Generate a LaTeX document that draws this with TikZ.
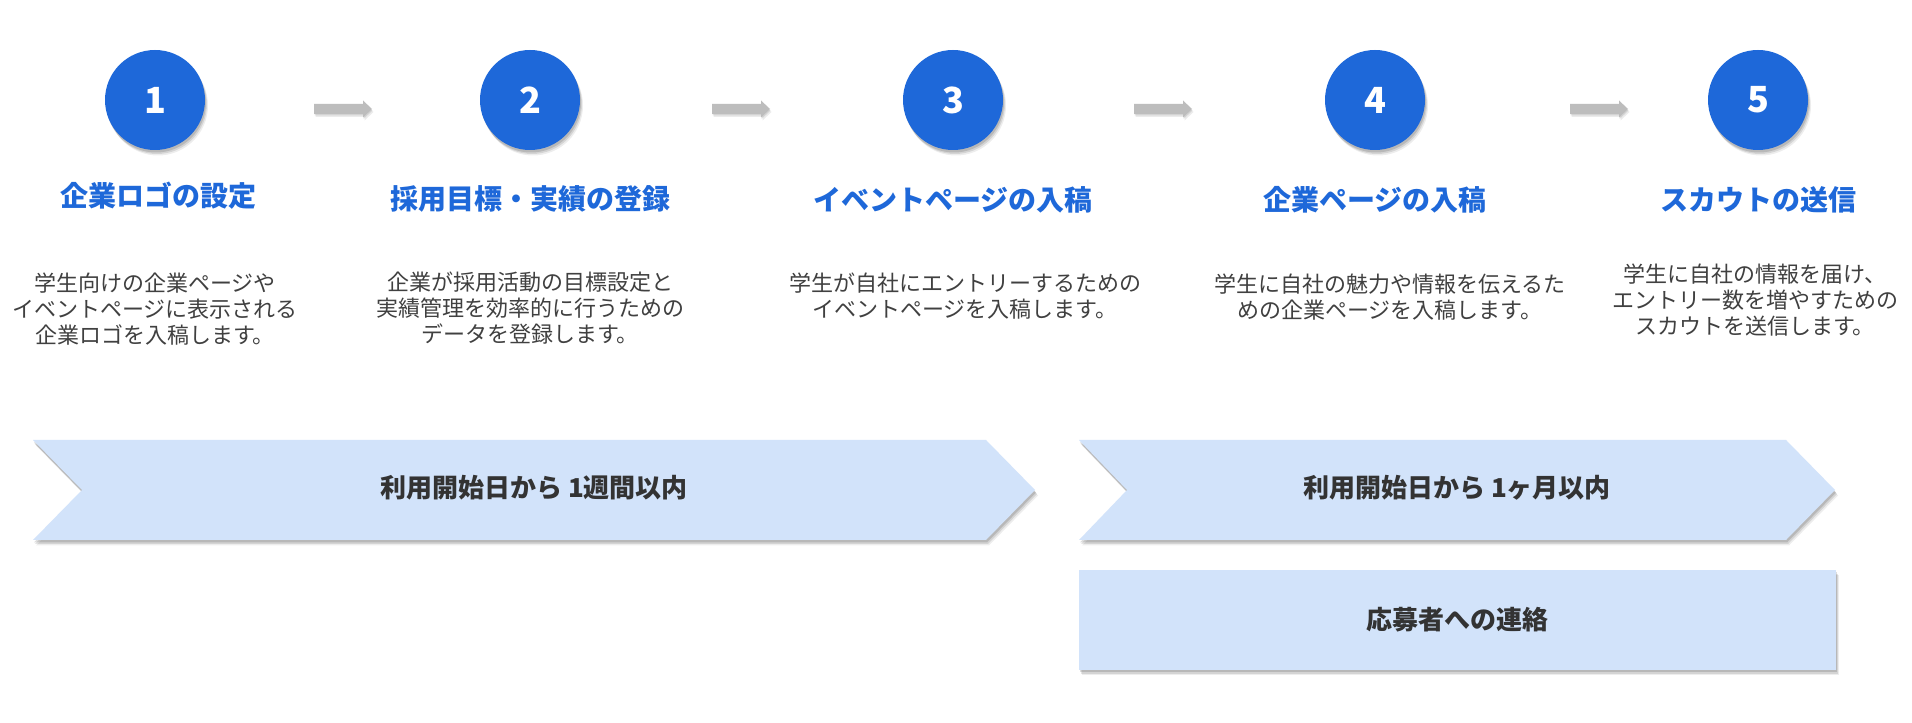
\documentclass[tikz,border=0pt]{standalone}
\usepackage{fontspec}
\setmainfont{Noto Sans CJK JP}
\definecolor{stepblue}{HTML}{1E68D9}
\definecolor{palebg}{HTML}{D2E3FA}
\definecolor{desctext}{HTML}{404040}
\definecolor{darktext}{HTML}{333333}
\definecolor{arrowgray}{HTML}{BDBDBD}
\begin{document}
\begin{tikzpicture}[x=1pt,y=1pt,
  softshadow/.style={
    preaction={fill=black,opacity=.07,transform canvas={shift={(3pt,-5.5pt)}}},
    preaction={fill=black,opacity=.10,transform canvas={shift={(2pt,-4pt)}}},
    preaction={fill=black,opacity=.13,transform canvas={shift={(1pt,-2.5pt)}}}},
  numcircle/.style={circle,fill=stepblue,minimum size=100pt,inner sep=0pt,text=white,font=\fontsize{36}{36}\selectfont\bfseries,softshadow},
  steptitle/.style={text=stepblue,font=\fontsize{28}{32}\selectfont\bfseries,inner sep=0pt},
  stepdesc/.style={text=desctext,font=\fontsize{22}{26}\selectfont,align=center,inner sep=0pt},
  flowarrow/.style={fill=arrowgray,
    preaction={fill=black,opacity=.08,transform canvas={shift={(1.5pt,-3pt)}}},
    preaction={fill=black,opacity=.10,transform canvas={shift={(0.5pt,-1.5pt)}}}},
  bandfill/.style={fill=palebg,softshadow},
  bandtext/.style={text=darktext,font=\fontsize{26}{30}\selectfont\bfseries,inner sep=0pt}
]
\useasboundingbox (0,0) rectangle (1912,723);
\fill[white] (0,0) rectangle (1912,723);

% circles
\node[numcircle] (c1) at (155,623) {1};
\node[numcircle] (c2) at (530,623) {2};
\node[numcircle] (c3) at (953,623) {3};
\node[numcircle] (c4) at (1375,623) {4};
\node[numcircle] (c5) at (1758,623) {5};

% arrows
\foreach \xa in {314,712,1134,1570}{
  \fill[flowarrow] (\xa,609) -- (\xa+49,609) -- (\xa+49,605.5) -- (\xa+58,614)
    -- (\xa+49,622.5) -- (\xa+49,619) -- (\xa,619) -- cycle;
}

% titles
\node[steptitle] (t1) at (158,527) {企業ロゴの設定};
\node[steptitle] (t2) at (530,524) {採用目標・実績の登録};
\node[steptitle] (t3) at (953,523) {イベントページの入稿};
\node[steptitle] (t4) at (1375,523) {企業ページの入稿};
\node[steptitle] (t5) at (1758,523) {スカウトの送信};

% descriptions
\node[stepdesc] (d1) at (155,414) {学生向けの企業ページや\\イベントページに表示される\\企業ロゴを入稿します。};
\node[stepdesc] (d2) at (530,415) {企業が採用活動の目標設定と\\実績管理を効率的に行うための\\データを登録します。};
\node[stepdesc] (d3) at (965,427) {学生が自社にエントリーするための\\イベントページを入稿します。};
\node[stepdesc] (d4) at (1390,426) {学生に自社の魅力や情報を伝えるた\\めの企業ページを入稿します。};
\node[stepdesc] (d5) at (1755,423) {学生に自社の情報を届け、\\エントリー数を増やすための\\スカウトを送信します。};

% chevrons
\fill[bandfill] (33,283) -- (986,283) -- (1035,233) -- (986,183) -- (33,183) -- (82,233) -- cycle;
\node[bandtext] (b1) at (534,235) {利用開始日から 1週間以内};
\fill[bandfill] (1079,283) -- (1786,283) -- (1835,233) -- (1786,183) -- (1079,183) -- (1127,233) -- cycle;
\node[bandtext] (b2) at (1457,235) {利用開始日から 1ヶ月以内};

% rectangle
\node[bandfill,minimum width=757pt,minimum height=100pt,inner sep=0pt] (r1) at (1457,103) {};
\node[bandtext] (r1t) at (r1.center) {応募者への連絡};
\end{tikzpicture}
\end{document}
